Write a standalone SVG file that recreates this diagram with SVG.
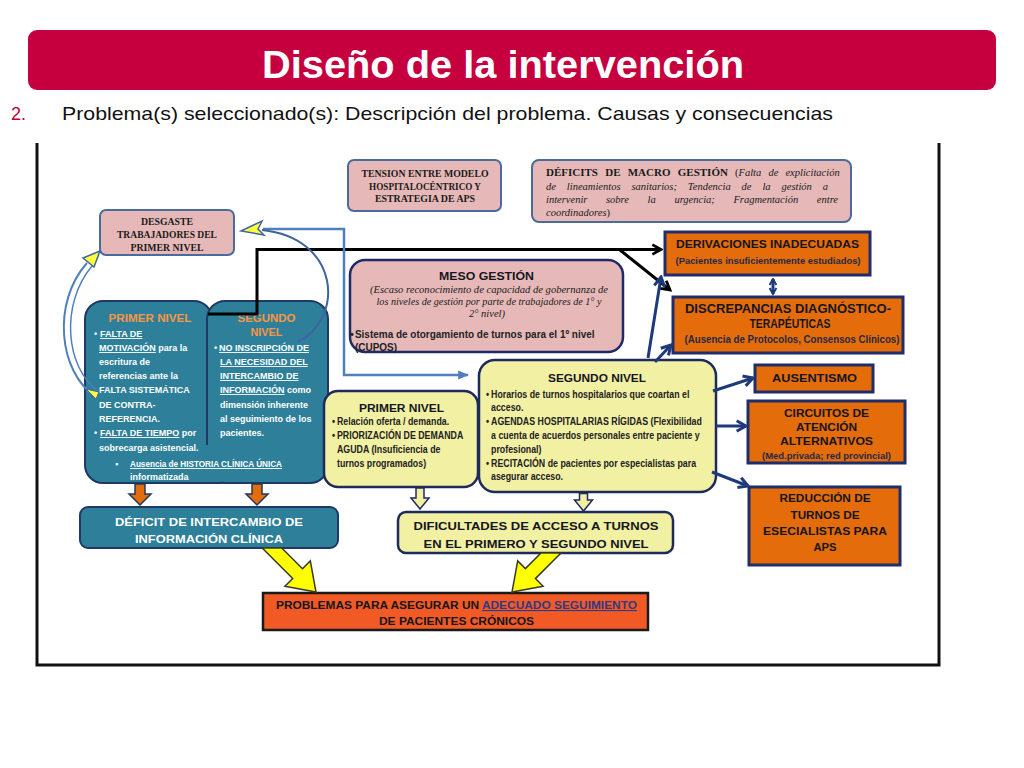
<svg xmlns="http://www.w3.org/2000/svg" width="1024" height="768" viewBox="0 0 1024 768">
<defs>
<style>
.sans{font-family:"Liberation Sans",Arial,sans-serif}
.ser{font-family:"Liberation Serif","Times New Roman",serif}
.pink{fill:#E6B9B8;stroke:#4A6B9E;stroke-width:2}
.meso{fill:#E6B9B8;stroke:#1F2A66;stroke-width:2.5}
.teal{fill:#2E7F99;stroke:#1F3864;stroke-width:2}
.yel{fill:#F2F0A3;stroke:#1F2A5C;stroke-width:2.5}
.org{fill:#E46C0A;stroke:#1F2D6B;stroke-width:3}
.tw{font-family:"Liberation Sans",Arial,sans-serif;font-weight:bold;font-size:9px;fill:#fff}
.nw{font-family:"Liberation Sans",Arial,sans-serif;font-weight:bold;font-size:10.5px;fill:#222}
.ot{font-family:"Liberation Sans",Arial,sans-serif;font-weight:bold;fill:#14161f;text-anchor:middle}
.os{font-family:"Liberation Sans",Arial,sans-serif;font-weight:bold;fill:#1F2A44;text-anchor:middle}
.pt{font-family:"Liberation Serif","Times New Roman",serif;font-weight:bold;font-size:10px;fill:#1a1a1a;text-anchor:middle}
.it{font-family:"Liberation Serif","Times New Roman",serif;font-style:italic;font-size:10.5px;fill:#1a1a1a}
.blk{fill:none;stroke:#000;stroke-width:3}
.nav{fill:none;stroke:#1F3A7A;stroke-width:3}
.lb{fill:none;stroke:#4F7FBD;stroke-width:2.5}
.bya{fill:#FFFF00;stroke:#3A3A2A;stroke-width:1.5;stroke-linejoin:miter}
.hya{fill:#F2F0A3;stroke:#1F2A5C;stroke-width:1.5}
.oda{fill:#E46C0A;stroke:#1F3864;stroke-width:1.5}
</style>
<marker id="mBlk" viewBox="0 0 12 12" refX="10" refY="6" markerWidth="13" markerHeight="13" markerUnits="userSpaceOnUse" orient="auto"><path d="M2,1.5 L10,6 L2,10.5" fill="none" stroke="#000" stroke-width="2.6"/></marker>
<marker id="mNav" viewBox="0 0 12 12" refX="10" refY="6" markerWidth="14" markerHeight="14" markerUnits="userSpaceOnUse" orient="auto-start-reverse"><path d="M2,1.5 L10,6 L2,10.5" fill="none" stroke="#1F3A7A" stroke-width="2.6"/></marker>
<marker id="mNavS" viewBox="0 0 12 12" refX="10" refY="6" markerWidth="9" markerHeight="9" markerUnits="userSpaceOnUse" orient="auto-start-reverse"><path d="M2,1.5 L10,6 L2,10.5" fill="none" stroke="#1F3A7A" stroke-width="2.6"/></marker>
<marker id="mBlue" viewBox="0 0 10 10" refX="9" refY="5" markerWidth="11" markerHeight="11" markerUnits="userSpaceOnUse" orient="auto"><path d="M0,1 L10,5 L0,9 z" fill="#4F7FBD"/></marker>
</defs>

<rect width="1024" height="768" fill="#fff"/>

<g id="header">
<rect x="28" y="30" width="968" height="60" rx="9" fill="#C6003F"/>
<text class="sans" x="503" y="78" font-size="38" font-weight="bold" fill="#fff" text-anchor="middle" textLength="482" lengthAdjust="spacingAndGlyphs">Diseño de la intervención</text>
<text class="sans" x="11" y="120" font-size="18" fill="#C0003C">2.</text>
<text class="sans" x="62" y="120" font-size="19" fill="#111" textLength="771" lengthAdjust="spacingAndGlyphs">Problema(s) seleccionado(s): Descripción del problema. Causas y consecuencias</text>
</g>

<g id="frame" stroke="#111" stroke-width="3" fill="none">
<path d="M37,143 V665 H939 V143"/>
</g>

<g id="desgaste">
<rect class="pink" x="100" y="210" width="134" height="45" rx="6"/>
<text class="pt" x="167" y="224.5" textLength="52" lengthAdjust="spacingAndGlyphs">DESGASTE</text>
<text class="pt" x="167" y="237.5" textLength="100" lengthAdjust="spacingAndGlyphs">TRABAJADORES DEL</text>
<text class="pt" x="167" y="250.5" textLength="73" lengthAdjust="spacingAndGlyphs">PRIMER NIVEL</text>
</g>

<g id="tension">
<rect class="pink" x="348" y="160" width="153" height="51" rx="6"/>
<text class="pt" x="425" y="177" textLength="127" lengthAdjust="spacingAndGlyphs">TENSION ENTRE MODELO</text>
<text class="pt" x="425" y="189.5" textLength="112" lengthAdjust="spacingAndGlyphs">HOSPITALOCÉNTRICO Y</text>
<text class="pt" x="425" y="202" textLength="100" lengthAdjust="spacingAndGlyphs">ESTRATEGIA DE APS</text>
</g>

<g id="macro">
<rect class="pink" x="532" y="160" width="319" height="62" rx="7"/>
<text class="it" x="546" y="176" word-spacing="4.5"><tspan font-style="normal" font-weight="bold" font-size="11">DÉFICITS DE MACRO GESTIÓN</tspan><tspan font-style="normal"> (</tspan>Falta de explicitación</text>
<text class="it" x="546" y="190" word-spacing="8.3">de lineamientos sanitarios; Tendencia de la gestión a</text>
<text class="it" x="546" y="203" word-spacing="16">intervenir sobre la urgencia; Fragmentación entre</text>
<text class="it" x="546" y="216">coordinadores<tspan font-style="normal">)</tspan></text>
</g>

<g id="meso">
<rect class="meso" x="350" y="260" width="273" height="92" rx="15"/>
<text class="ot" x="486.5" y="280" font-size="11.5" textLength="95" lengthAdjust="spacingAndGlyphs">MESO GESTIÓN</text>
<text class="it" x="489" y="293" text-anchor="middle" textLength="238" lengthAdjust="spacingAndGlyphs">(Escaso reconocimiento  de capacidad de gobernanza de</text>
<text class="it" x="489" y="305" text-anchor="middle" textLength="225" lengthAdjust="spacingAndGlyphs">los niveles de gestión por parte de trabajadores de 1° y</text>
<text class="it" x="487" y="317" text-anchor="middle">2° nivel)</text>
<g transform="matrix(0.95 0 0 1 17.7 0)">
<text class="nw" x="350" y="338" font-size="11.5">•</text>
<text class="nw" x="355" y="338" font-size="11.5">Sistema de otorgamiento de turnos para el 1º nivel</text>
<text class="nw" x="355" y="351" font-size="11.5">(CUPOS)</text>
</g>
</g>

<g id="teal-niveles">
<rect class="teal" x="85" y="301" width="127" height="182" rx="18"/>
<rect class="teal" x="207" y="301" width="121" height="182" rx="18"/>
<rect x="195" y="445" width="26" height="37" fill="#2E7F99"/>
<line x1="190" y1="483" x2="226" y2="483" stroke="#1F3864" stroke-width="2"/>
<text class="sans" x="150" y="322" font-size="11" font-weight="bold" fill="#F79646" text-anchor="middle" textLength="83" lengthAdjust="spacingAndGlyphs">PRIMER NIVEL</text>
<text class="sans" x="266.5" y="322" font-size="11" font-weight="bold" fill="#F79646" text-anchor="middle" textLength="58" lengthAdjust="spacingAndGlyphs">SEGUNDO</text>
<text class="sans" x="266.5" y="336" font-size="11" font-weight="bold" fill="#F79646" text-anchor="middle" textLength="32" lengthAdjust="spacingAndGlyphs">NIVEL</text>
<text class="tw" x="94" y="337">•</text>
<text class="tw" x="100" y="337" text-decoration="underline"> FALTA DE</text>
<text class="tw" x="99" y="351"><tspan text-decoration="underline">MOTIVACIÓN</tspan> para la</text>
<text class="tw" x="99" y="365">escritura de</text>
<text class="tw" x="99" y="379">referencias  ante la</text>
<text class="tw" x="99" y="393">FALTA SISTEMÁTICA</text>
<text class="tw" x="99" y="408">DE CONTRA-</text>
<text class="tw" x="99" y="422">REFERENCIA.</text>
<text class="tw" x="94" y="436">•</text>
<text class="tw" x="100" y="436"><tspan text-decoration="underline"> FALTA DE TIEMPO</tspan> por</text>
<text class="tw" x="99" y="451">sobrecarga asistencial.</text>
<text class="tw" x="214" y="351">•</text>
<text class="tw" x="219" y="351" text-decoration="underline"> NO INSCRIPCIÓN DE</text>
<text class="tw" x="220" y="365" text-decoration="underline">LA NECESIDAD DEL</text>
<text class="tw" x="220" y="379" text-decoration="underline">INTERCAMBIO DE</text>
<text class="tw" x="220" y="393"><tspan text-decoration="underline">INFORMACIÓN</tspan> como</text>
<text class="tw" x="220" y="408">dimensión inherente</text>
<text class="tw" x="220" y="422">al seguimiento de los</text>
<text class="tw" x="220" y="436">pacientes.</text>
<text class="tw" x="115" y="467" font-size="7">▪</text>
<text class="tw" x="130" y="467" font-size="8" text-decoration="underline" textLength="152" lengthAdjust="spacingAndGlyphs">Ausencia de HISTORIA CLÍNICA ÚNICA</text>
<text class="tw" x="130" y="480" font-size="8">informatizada</text>
</g>

<g id="deficit-info">
<rect class="teal" x="80" y="507" width="258" height="41" rx="8"/>
<text class="sans" x="209" y="526" font-size="10.5" font-weight="bold" fill="#fff" text-anchor="middle" textLength="188" lengthAdjust="spacingAndGlyphs">DÉFICIT DE INTERCAMBIO DE</text>
<text class="sans" x="209" y="543" font-size="10.5" font-weight="bold" fill="#fff" text-anchor="middle" textLength="148" lengthAdjust="spacingAndGlyphs">INFORMACIÓN CLÍNICA</text>
</g>

<g id="primer-yel">
<rect class="yel" x="324" y="391" width="154" height="96" rx="14"/>
<text class="ot" x="401.5" y="412" font-size="11" textLength="85" lengthAdjust="spacingAndGlyphs">PRIMER NIVEL</text>
<g transform="matrix(0.84 0 0 1 53.9 0)">
<text class="nw" x="331" y="425">•</text>
<text class="nw" x="337" y="425">Relación oferta / demanda.</text>
<text class="nw" x="331" y="439">•</text>
<text class="nw" x="337" y="439">PRIORIZACIÓN DE DEMANDA</text>
<text class="nw" x="337" y="453">AGUDA (Insuficiencia de</text>
<text class="nw" x="337" y="467">turnos programados)</text>
</g>
</g>

<g id="segundo-yel">
<rect class="yel" x="479" y="360" width="237" height="132" rx="16"/>
<text class="ot" x="597" y="382" font-size="11" textLength="98" lengthAdjust="spacingAndGlyphs">SEGUNDO NIVEL</text>
<g transform="matrix(0.84 0 0 1 78.6 0)">
<text class="nw" x="485" y="398">•</text>
<text class="nw" x="491" y="398">Horarios de turnos hospitalarios que coartan el</text>
<text class="nw" x="491" y="411">acceso.</text>
<text class="nw" x="485" y="425">•</text>
<text class="nw" x="491" y="425">AGENDAS HOSPITALARIAS RÍGIDAS (Flexibilidad</text>
<text class="nw" x="491" y="439">a cuenta de acuerdos personales entre paciente y</text>
<text class="nw" x="491" y="453">profesional)</text>
<text class="nw" x="485" y="467">•</text>
<text class="nw" x="491" y="467">RECITACIÓN de pacientes por especialistas para</text>
<text class="nw" x="491" y="480">asegurar acceso.</text>
</g>
</g>

<g id="dificultades">
<rect class="yel" x="398" y="512" width="275" height="41" rx="8"/>
<text class="ot" x="536" y="530" font-size="11" textLength="245" lengthAdjust="spacingAndGlyphs">DIFICULTADES DE ACCESO A TURNOS</text>
<text class="ot" x="536" y="548" font-size="11" textLength="225" lengthAdjust="spacingAndGlyphs">EN EL PRIMERO Y SEGUNDO NIVEL</text>
</g>

<g id="problemas">
<rect x="263" y="593" width="385" height="37" fill="#F15A24" stroke="#1a1a1a" stroke-width="2.5"/>
<text class="sans" x="276" y="609" font-size="11" font-weight="bold" fill="#14161f" textLength="361" lengthAdjust="spacingAndGlyphs">PROBLEMAS PARA ASEGURAR UN <tspan fill="#2E3A87" text-decoration="underline">ADECUADO SEGUIMIENTO</tspan></text>
<text class="ot" x="456.5" y="625" font-size="11" textLength="155" lengthAdjust="spacingAndGlyphs">DE PACIENTES CRÓNICOS</text>
</g>

<g id="derivaciones">
<rect class="org" x="665" y="232" width="205" height="43"/>
<text class="ot" x="767.5" y="248" font-size="11.5" textLength="183" lengthAdjust="spacingAndGlyphs">DERIVACIONES INADECUADAS</text>
<text class="os" x="768" y="264" font-size="9.5" font-weight="normal" textLength="185" lengthAdjust="spacingAndGlyphs">(Pacientes insuficientemente estudiados)</text>
</g>

<g id="discrepancias">
<rect class="org" x="673" y="297" width="230" height="56"/>
<text class="ot" x="788" y="313" font-size="12" textLength="206" lengthAdjust="spacingAndGlyphs">DISCREPANCIAS DIAGNÓSTICO-</text>
<text class="ot" x="790" y="328" font-size="12" textLength="81" lengthAdjust="spacingAndGlyphs">TERAPÉUTICAS</text>
<text class="os" x="792" y="343" font-size="10" font-weight="normal" textLength="215" lengthAdjust="spacingAndGlyphs">(Ausencia de Protocolos, Consensos Clínicos)</text>
</g>

<g id="ausentismo">
<rect class="org" x="755" y="365" width="118" height="27"/>
<text class="ot" x="814.5" y="382" font-size="11" textLength="85" lengthAdjust="spacingAndGlyphs">AUSENTISMO</text>
</g>

<g id="circuitos">
<rect class="org" x="748" y="401" width="157" height="62"/>
<text class="ot" x="826.5" y="416.5" font-size="11" textLength="85" lengthAdjust="spacingAndGlyphs">CIRCUITOS DE</text>
<text class="ot" x="826.5" y="431" font-size="11" textLength="61" lengthAdjust="spacingAndGlyphs">ATENCIÓN</text>
<text class="ot" x="826.5" y="445" font-size="11" textLength="93" lengthAdjust="spacingAndGlyphs">ALTERNATIVOS</text>
<text class="os" x="826.5" y="458.5" font-size="8.5" font-weight="normal" textLength="129" lengthAdjust="spacingAndGlyphs">(Med.privada; red provincial)</text>
</g>

<g id="reduccion">
<rect class="org" x="749" y="487" width="151" height="78"/>
<text class="ot" x="825" y="502" font-size="11" textLength="91" lengthAdjust="spacingAndGlyphs">REDUCCIÓN DE</text>
<text class="ot" x="825" y="518.5" font-size="11" textLength="69" lengthAdjust="spacingAndGlyphs">TURNOS DE</text>
<text class="ot" x="825" y="535" font-size="11" textLength="124" lengthAdjust="spacingAndGlyphs">ESECIALISTAS PARA</text>
<text class="ot" x="825" y="551" font-size="11" textLength="23" lengthAdjust="spacingAndGlyphs">APS</text>
</g>

<g id="connectors">
<path class="blk" d="M208,314 H257 V249.5 H661" marker-end="url(#mBlk)"/>
<path class="blk" d="M620,250 L670,290" marker-end="url(#mBlk)"/>
<path class="nav" d="M648,358 L661,277" marker-end="url(#mNav)"/>
<path class="nav" d="M655,362 L671,345" marker-end="url(#mNav)"/>
<path class="nav" d="M713,391 L753,378" marker-end="url(#mNav)"/>
<path class="nav" d="M716,426 L746,426" marker-end="url(#mNav)"/>
<path class="nav" d="M712,472 L748,486" marker-end="url(#mNav)"/>
<path class="nav" d="M773,279 L773,294" stroke-width="2.5" marker-start="url(#mNavS)" marker-end="url(#mNavS)"/>
<path class="lb" d="M263,229 H344 V375 H468" marker-end="url(#mBlue)"/>
<path fill="none" stroke="#3F64A0" stroke-width="2" d="M298,342 C345,318 340,238 262,230"/>
<polygon points="241,231 262,221 258,229 264,235" fill="#FFFF40" stroke="#3F64A0" stroke-width="1.5"/>
<path fill="none" stroke="#4F7FBD" stroke-width="2" d="M96,397 C58,372 52,302 87,263"/>
<path fill="none" stroke="#4F7FBD" stroke-width="1.5" d="M99,392 C65,368 60,304 92,266"/>
<polygon points="100,251 83,258 94,267" fill="#FFFF40" stroke="#3F64A0" stroke-width="1.5"/>
<polygon points="86,389 99,392 96,399" fill="#FFFF40" stroke="#3F64A0" stroke-width="1"/>
<polygon class="oda" points="135,484 145,484 145,494 151,494 140,505 129,494 135,494"/>
<polygon class="oda" points="252,484 262,484 262,494 268,494 257,505 246,494 252,494"/>
<polygon class="hya" points="416,488 424,488 424,498 429,498 420,509 411,498 416,498"/>
<polygon class="hya" points="579.5,493.5 587.5,493.5 587.5,500 592.5,500 583.5,511 574.5,500 579.5,500"/>
<polygon class="bya" points="281.8,548 302.5,568.7 310.3,560.9 316,592 284.9,586.3 292.7,578.5 262.2,548"/>
<polygon class="bya" points="561,553 535.4,578.6 543.1,586.3 512,592 517.7,560.9 525.4,568.6 541,553"/>
</g>
</svg>
